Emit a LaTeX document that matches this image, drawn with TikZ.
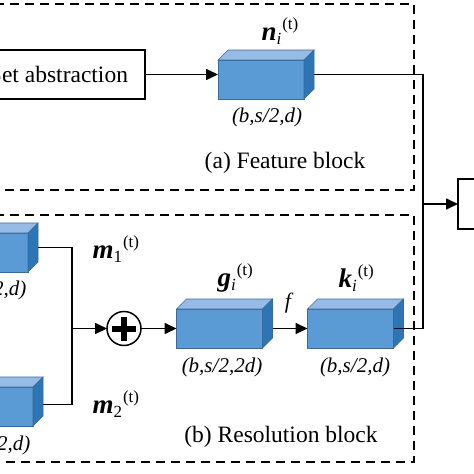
\documentclass[tikz,border=0pt]{standalone}
\usepackage{fontspec}
\setmainfont{LiberationSerif}[Extension=.ttf, UprightFont=*-Regular, BoldFont=*-Bold, ItalicFont=*-Italic, BoldItalicFont=*-BoldItalic]
\usetikzlibrary{arrows.meta}
\definecolor{cfront}{RGB}{91,155,213}
\definecolor{ctop}{RGB}{150,188,230}
\definecolor{cside}{RGB}{46,117,182}
\definecolor{cedge}{RGB}{60,105,155}
\newcommand\mylbl[2]{{\fontsize{27}{27}\selectfont\bfseries\itshape #1}{\fontsize{17}{17}\selectfont\raisebox{-4pt}{#2}\hspace{1pt}\raisebox{11pt}{(t)}}}
\newcommand\mycubefaces[1]{%
  \filldraw[topface] (#1.north west) -- ++(10,-10) -- ([shift={(10,-10)}]#1.north east) -- (#1.north east) -- cycle;
  \filldraw[sideface] (#1.north east) -- ++(10,-10) -- ([shift={(10,-10)}]#1.south east) -- (#1.south east) -- cycle;}
\begin{document}
\begin{tikzpicture}[x=1pt,y=-1pt,
  line/.style={line width=1.7pt},
  arr/.style={line width=1.7pt,-{Triangle[length=12pt,width=11pt]}},
  dashbox/.style={line width=1.7pt,dash pattern=on 9pt off 6pt},
  cube/.style={draw=cedge,line width=0.6pt,fill=cfront,minimum width=86pt,minimum height=39pt,inner sep=0pt,outer sep=0pt},
  topface/.style={draw=cedge,line width=0.6pt,fill=ctop},
  sideface/.style={draw=cedge,line width=0.6pt,fill=cside},
  box/.style={draw,line width=1.7pt,inner sep=0pt,outer sep=0pt},
  big/.style={font=\fontsize{23.5}{26}\selectfont},
  dims/.style={font=\fontsize{21}{24}\selectfont\itshape},
]
\useasboundingbox (0,0) rectangle (474,474);
\clip (0,0) rectangle (474,474);
\fill[white] (0,0) rectangle (474,474);

% dashed blocks
\draw[dashbox] (-20,4) -- (414,4) -- (414,190) -- (-20,190);
\draw[dashbox] (-20,215) -- (414,215) -- (414,462) -- (-20,462);

% feature block
\node[box,big,minimum width=173pt,minimum height=49pt] (sa) at (58.5,74.5) {Set abstraction};
\node[cube] (n) at (261,79.5) {};
\mycubefaces{n}
\coordinate (nside) at ([shift={(10,-5)}]n.east);
\node[anchor=base west] (nl) at (258,40) {\mylbl{n}{\textit{i}}};
\node[dims] (nd) at (267,117) {(b,s/2,d)};
\node[big] (fa) at (285,163) {(a) Feature block};
\draw[arr] (sa.east) -- (sa.east -| n.west);

% resolution block
\node[cube] (m1) at (-15,252.5) {};
\mycubefaces{m1}
\node[cube] (m2) at (-10,406.5) {};
\mycubefaces{m2}
\coordinate (m1side) at ([shift={(10,-5)}]m1.east);
\coordinate (m2side) at ([shift={(10,-2)}]m2.east);
\node[dims,anchor=east] (m1d) at (30,290) {(b,s/2,d)};
\node[dims,anchor=east] (m2d) at (34,445) {(b,s/2,d)};
\node[anchor=base west] (m1l) at (89,258) {\mylbl{m}{1}};
\node[anchor=base west] (m2l) at (89,413) {\mylbl{m}{2}};

\coordinate (j) at (72,328.5);
\node[circle,draw,line width=1.5pt,minimum size=34pt,inner sep=0pt,outer sep=0pt] (plus) at (124,328.5) {};
\draw[line width=6pt] ([xshift=-12pt]plus.center) -- ([xshift=12pt]plus.center);
\draw[line width=6pt] ([yshift=-12pt]plus.center) -- ([yshift=12pt]plus.center);

\node[cube] (g) at (219.5,328.5) {};
\mycubefaces{g}
\node[cube] (k) at (350.5,328.5) {};
\mycubefaces{k}
\node[anchor=base west] (gl) at (214,286) {\mylbl{g}{\textit{i}}};
\node[anchor=base west] (kl) at (335,287) {\mylbl{k}{\textit{i}}};
\node[dims] (gd) at (222,367) {(b,s/2,2d)};
\node[dims] (kd) at (355,367) {(b,s/2,d)};
\node[font=\fontsize{22}{24}\selectfont\itshape] (fl) at (288,303) {f};
\node[big] (rb) at (281,437) {(b) Resolution block};

\draw[line] (m1side) -| (j);
\draw[line] (m2side) -| (j);
\draw[arr] (j) -- (plus.west);
\draw[arr] (plus.east) -- (g.west);
\draw[arr] ([xshift=10pt]g.east) -- (k.west);

% output
\node[box,minimum width=42pt,minimum height=50pt] (out) at (479,204) {};
\coordinate (rj) at (423,328.5);
\coordinate (oj) at (423,204);
\draw[line] (nside) -| (rj) -- (k.east);
\draw[arr] (oj) -- (out.west);
\end{tikzpicture}
\end{document}
